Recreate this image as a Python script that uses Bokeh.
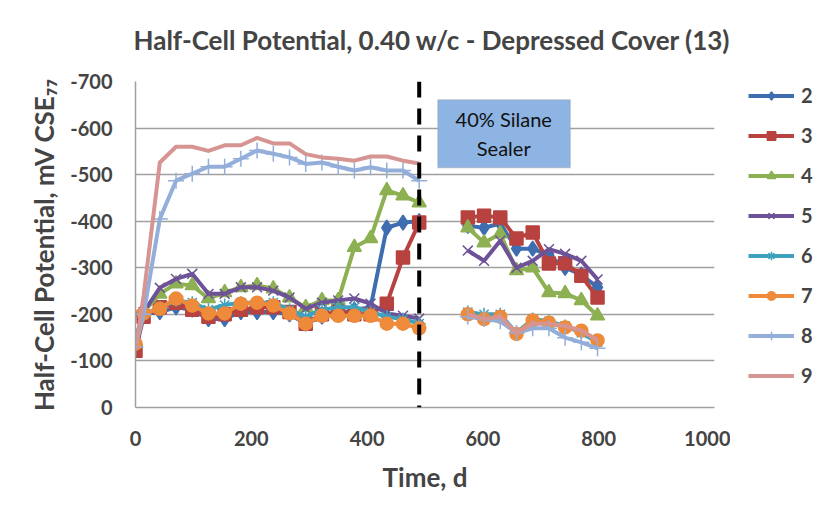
from bokeh.plotting import figure
from bokeh.layouts import row
from bokeh.models import Range1d, FixedTicker, Legend, LegendItem, Label, Span, BoxAnnotation
from bokeh.embed import file_html
from bokeh.resources import INLINE

# ---- data ----
t_before = [0, 14, 42, 70, 98, 126, 154, 182, 210, 238, 266, 294, 322, 350, 378, 406, 434, 462, 490]
t_after = [574, 602, 630, 658, 686, 714, 742, 770, 798]

s2_before = [-150, -200, -205, -215, -210, -190, -190, -205, -205, -205, -200, -180, -195, -200, -210, -215, -386, -397, -400]
s2_after = [-390, -386, -395, -341, -341, -326, -300, -285, -258]
s3_before = [-122, -195, -215, -225, -210, -195, -200, -210, -215, -215, -205, -180, -200, -205, -200, -200, -223, -322, -397]
s3_after = [-408, -412, -408, -363, -376, -309, -310, -283, -236]
s4_before = [-140, -205, -244, -266, -262, -234, -247, -258, -262, -255, -236, -215, -230, -230, -344, -363, -466, -455, -440]
s4_after = [-386, -354, -373, -294, -300, -247, -245, -230, -197]
s5_before = [-200, -205, -257, -276, -287, -244, -244, -258, -258, -251, -236, -212, -225, -230, -234, -223, -202, -197, -191]
s5_after = [-337, -315, -358, -300, -315, -340, -330, -315, -275]
s6_before = [-140, -200, -215, -230, -225, -210, -220, -225, -225, -225, -210, -195, -210, -215, -215, -205, -195, -190, -180]
s6_after = [-205, -200, -200, -160, -190, -185, -175, -160, -140]
s7_before = [-137, -202, -212, -234, -219, -202, -202, -223, -225, -219, -202, -180, -197, -197, -197, -197, -180, -180, -170]
s7_after = [-200, -190, -195, -158, -187, -182, -172, -165, -144]
s8_before = [-130, -200, -405, -487, -502, -517, -517, -534, -552, -545, -537, -523, -526, -517, -509, -516, -509, -509, -487]
s8_after = [-195, -190, -185, -160, -170, -170, -150, -140, -127]
s9_before = [-125, -240, -526, -560, -560, -551, -563, -563, -579, -567, -567, -544, -537, -534, -530, -539, -539, -530, -524]
s9_after = [-200, -190, -195, -160, -180, -180, -175, -165, -145]

series_names = ["2", "3", "4", "5", "6", "7", "8", "9"]
x_ticks = [0, 200, 400, 600, 800, 1000]
y_ticks = [0, -100, -200, -300, -400, -500, -600, -700]
sealer_day = 490
sealer_text = "40% Silane\nSealer"

series = [
    (s2_before, s2_after, "#3E6EB0", "diamond", 15),
    (s3_before, s3_after, "#B8423F", "square", 13),
    (s4_before, s4_after, "#8DB052", "triangle", 14),
    (s5_before, s5_after, "#6E5298", "x", 14),
    (s6_before, s6_after, "#3FA2BD", "asterisk", 13),
    (s7_before, s7_after, "#EE8B3B", "circle", 13),
    (s8_before, s8_after, "#93AFD9", "cross", 16),
    (s9_before, s9_after, "#D69493", None, 0),
]

FONT = "Lato"

p = figure(width=730, height=500, output_backend="svg", toolbar_location=None,
           x_range=Range1d(0, 1000), y_range=Range1d(0, -700),
           min_border_left=135, min_border_right=16, min_border_top=81, min_border_bottom=93,
           title="Half-Cell Potential, 0.40 w/c - Depressed Cover (13)")
p.outline_line_color = None
p.background_fill_color = "white"
p.border_fill_color = "white"

p.title.align = "left"
p.title.offset = -2
p.title.vertical_align = "top"
p.title.text_font = FONT
p.title.text_font_size = "26px"
p.title.text_font_style = "bold"
p.title.standoff = 47

for ax in (p.xaxis[0], p.yaxis[0]):
    ax.axis_line_color = "#A0A0A0"
    ax.axis_line_width = 1.5
    ax.major_tick_line_color = None
    ax.minor_tick_line_color = None
    ax.major_label_text_font = FONT
    ax.major_label_text_font_style = "bold"
    ax.major_label_text_font_size = "20px"
    ax.axis_label_text_font = FONT
    ax.axis_label_text_font_style = "bold"
    ax.axis_label_text_font_size = "26px"

p.xaxis.ticker = FixedTicker(ticks=x_ticks)
p.yaxis.ticker = FixedTicker(ticks=y_ticks)
p.yaxis.major_label_overrides = {v: str(v) for v in y_ticks}
p.xaxis.major_label_standoff = 17
p.yaxis.major_label_standoff = 17
p.xaxis.axis_label = "Time, d"
p.yaxis.axis_label = "Half-Cell Potential, mV CSE\u2087\u2087"
p.xaxis.axis_label_standoff = 12
p.yaxis.axis_label_standoff = 7

p.xgrid.grid_line_color = None
p.ygrid.grid_line_color = "#A0A0A0"
p.ygrid.grid_line_width = 1.5

# legend lives in a narrow companion figure to the right of the chart;
# its swatch renderers hold the same series but lie outside its (empty) view
lg = figure(width=92, height=500, output_backend="svg", toolbar_location=None,
            x_range=Range1d(0, 1), y_range=Range1d(0, 1),
            x_axis_location=None, y_axis_location=None,
            min_border_left=0, min_border_right=0, min_border_top=0, min_border_bottom=0)
lg.outline_line_color = None
lg.grid.grid_line_color = None
lg.background_fill_color = "white"
lg.border_fill_color = "white"

items = []
for name, (yb, ya, color, marker, size) in zip(series_names, series):
    p.line(t_before, yb, line_color=color, line_width=4, line_join="round")
    p.line(t_after, ya, line_color=color, line_width=4, line_join="round")
    if marker is not None:
        p.scatter(t_before + t_after, yb + ya, marker=marker, size=size,
                  fill_color=color, line_color=color, line_width=1.5)
    rends = [lg.line(t_before, yb, line_color=color, line_width=4)]
    if marker is not None:
        rends.append(lg.scatter(t_before, yb, marker=marker, size=size,
                                fill_color=color, line_color=color, line_width=1.5))
    items.append(LegendItem(label=name, renderers=rends))

p.add_layout(Span(location=sealer_day, dimension="height", line_color="black",
                  line_width=4, line_dash="16 11"))

box = BoxAnnotation(left=522, right=751, top=-661, bottom=-515,
                    fill_color="#8DB4E2", fill_alpha=1.0, line_color="#9A9A9A", line_width=1.5)
p.add_layout(box)
p.add_layout(Label(x=636, y=-588, text=sealer_text, text_align="center", text_baseline="middle",
                   text_font=FONT, text_font_size="20px", text_color="#111111"))

legend = Legend(items=items, location=(18, 20), padding=0, margin=0, spacing=16,
                glyph_width=46, glyph_height=21, label_height=21, label_standoff=7,
                label_text_font=FONT, label_text_font_style="bold", label_text_font_size="20px",
                border_line_color=None, background_fill_alpha=0)
lg.add_layout(legend)

layout = row(p, lg)
open("out.html", "w").write(file_html(layout, INLINE))
